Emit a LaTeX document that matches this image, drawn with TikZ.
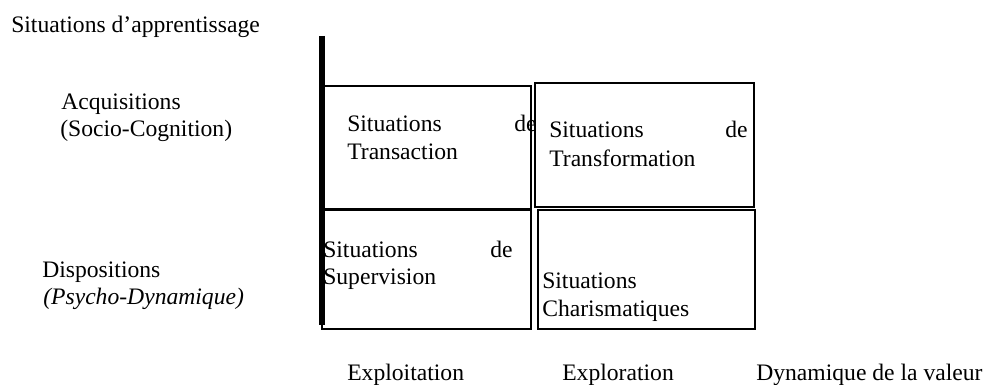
\documentclass[tikz,border=0pt]{standalone}
\usepackage{fontspec}
\setmainfont{Liberation Serif}
\tikzset{
  lbl/.style={anchor=base west,inner sep=0pt},
  lblr/.style={anchor=base east,inner sep=0pt},
  cell/.style={line width=1.2pt}
}
\begin{document}
\begin{tikzpicture}[font=\fontsize{16.8pt}{20pt}\selectfont]
\useasboundingbox (0,0) rectangle (24.725,9.625);
%\draw[step=1cm,gray,very thin] (0,0) grid (24,9); %background grid
% left labels
\node[lbl] (titre) at (0.275,8.8) {Situations d’apprentissage};
\node[lbl] (acq) at (1.525,6.875) {Acquisitions};
\node[lbl] (socio) at (1.5,6.2) {(Socio-Cognition)};
\node[lbl] (disp) at (1.05,2.675) {Dispositions};
\node[lbl] (psycho) at (1.075,2.0) {\itshape (Psycho-Dynamique)};
% the four cells
\draw[cell] (8.1,7.475) rectangle (13.275,4.4);
\draw[cell] (13.375,7.55) rectangle (18.85,4.45);
\draw[cell] (8.05,4.375) rectangle (13.275,1.4);
\draw[cell] (13.45,4.375) rectangle (18.875,1.4);
\node[lbl] (trans1) at (8.675,6.325) {Situations};
\node[lblr] (trans2) at (13.425,6.325) {de};
\node[lbl] (trans3) at (8.675,5.625) {Transaction};
\node[lbl] (transf1) at (13.725,6.175) {Situations};
\node[lblr] (transf2) at (18.7,6.175) {de};
\node[lbl] (transf3) at (13.725,5.45) {Transformation};
\node[lbl] (sup1) at (8.075,3.175) {Situations};
\node[lblr] (sup2) at (12.825,3.175) {de};
\node[lbl] (sup3) at (8.075,2.5) {Supervision};
\node[lbl] (char1) at (13.55,2.4) {Situations};
\node[lbl] (char2) at (13.55,1.7) {Charismatiques};
% vertical axis
\draw[line width=0.15cm] (8.05,8.725) -- (8.05,1.5);
% bottom labels
\node[lbl] (exploit) at (8.675,0.1) {Exploitation};
\node[lbl] (explor) at (14.05,0.1) {Exploration};
\node[lbl] (dyn) at (18.9,0.1) {Dynamique de la valeur};
\end{tikzpicture}
\end{document}
